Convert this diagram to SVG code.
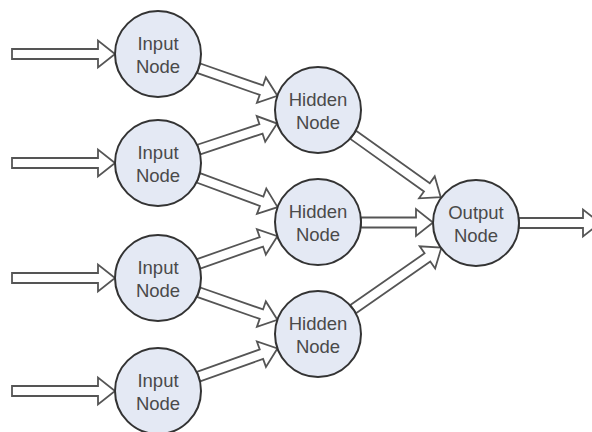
<svg xmlns="http://www.w3.org/2000/svg" width="592" height="432" viewBox="0 0 592 432">
<style>
.bg{fill:#ffffff}
.arrow{fill:#ffffff;stroke:#555555;stroke-width:1.8;stroke-linejoin:miter}
.node circle{fill:#e4e9f4;stroke:#333333;stroke-width:2}
.node text{font-family:"Liberation Sans",Arial,sans-serif;font-size:18.5px;fill:#4a4a4a;text-anchor:middle}
</style>
<rect class="bg" x="0" y="0" width="592" height="432"/>
<g id="connectors">
<path class="arrow" transform="translate(12,54)" d="M0,-5 H86 V-13.5 L103,0 L86,13.5 V5 H0 Z"/>
<path class="arrow" transform="translate(12,163)" d="M0,-5 H86 V-13.5 L103,0 L86,13.5 V5 H0 Z"/>
<path class="arrow" transform="translate(12,278)" d="M0,-5 H86 V-13.5 L103,0 L86,13.5 V5 H0 Z"/>
<path class="arrow" transform="translate(12,391)" d="M0,-5 H86 V-13.5 L103,0 L86,13.5 V5 H0 Z"/>
<path class="arrow" transform="translate(198.6,68.2) rotate(19.29)" d="M0,-5 H66.5 V-13.5 L83.5,0 L66.5,13.5 V5 H0 Z"/>
<path class="arrow" transform="translate(198.8,149.5) rotate(-18.33)" d="M0,-5 H65.5 V-13.5 L82.5,0 L65.5,13.5 V5 H0 Z"/>
<path class="arrow" transform="translate(198.3,177.9) rotate(20.24)" d="M0,-5 H67.5 V-13.5 L84.5,0 L67.5,13.5 V5 H0 Z"/>
<path class="arrow" transform="translate(198.6,263.8) rotate(-19.29)" d="M0,-5 H66.5 V-13.5 L83.5,0 L66.5,13.5 V5 H0 Z"/>
<path class="arrow" transform="translate(198.6,292.2) rotate(19.29)" d="M0,-5 H66.5 V-13.5 L83.5,0 L66.5,13.5 V5 H0 Z"/>
<path class="arrow" transform="translate(198.5,376.6) rotate(-19.61)" d="M0,-5 H66.8 V-13.5 L83.8,0 L66.8,13.5 V5 H0 Z"/>
<path class="arrow" transform="translate(353.2,134.8) rotate(35.5)" d="M0,-5 H90.5 V-13.5 L107.5,0 L90.5,13.5 V5 H0 Z"/>
<path class="arrow" transform="translate(361,222.5)" d="M0,-5 H55 V-13.5 L72,0 L55,13.5 V5 H0 Z"/>
<path class="arrow" transform="translate(353.2,309.2) rotate(-34.9)" d="M0,-5 H90.5 V-13.5 L107.5,0 L90.5,13.5 V5 H0 Z"/>
<path class="arrow" transform="translate(519,223)" d="M0,-5 H64 V-13.5 L81,0 L64,13.5 V5 H0 Z"/>
</g>
<g id="input1" class="node"><circle cx="158" cy="54" r="43"/><text x="158" y="50">Input</text><text x="158" y="73">Node</text></g>
<g id="input2" class="node"><circle cx="158" cy="163" r="43"/><text x="158" y="159">Input</text><text x="158" y="182">Node</text></g>
<g id="input3" class="node"><circle cx="158" cy="278" r="43"/><text x="158" y="274">Input</text><text x="158" y="297">Node</text></g>
<g id="input4" class="node"><circle cx="158" cy="391" r="43"/><text x="158" y="387">Input</text><text x="158" y="410">Node</text></g>
<g id="hidden1" class="node"><circle cx="318" cy="110" r="43"/><text x="318" y="106">Hidden</text><text x="318" y="129">Node</text></g>
<g id="hidden2" class="node"><circle cx="318" cy="222" r="43"/><text x="318" y="218">Hidden</text><text x="318" y="241">Node</text></g>
<g id="hidden3" class="node"><circle cx="318" cy="334" r="43"/><text x="318" y="330">Hidden</text><text x="318" y="353">Node</text></g>
<g id="output" class="node"><circle cx="476" cy="223" r="43"/><text x="476" y="219">Output</text><text x="476" y="242">Node</text></g>
</svg>
